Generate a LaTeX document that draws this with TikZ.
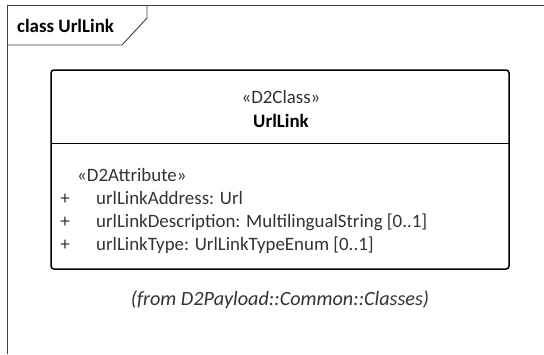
\documentclass[tikz,border=0pt]{standalone}
\usepackage{fontspec}
\setmainfont{Carlito}
\begin{document}
\begin{tikzpicture}[x=1pt,y=-1pt,
  txt/.style={inner sep=0pt,font=\fontsize{18.9}{20}\selectfont,text=black!80,anchor=base},
  attr/.style={txt,anchor=base west},
  frameline/.style={draw=black!75,line width=0.9pt}]
\useasboundingbox (0,0) rectangle (544,354);
\fill[white] (0,0) rectangle (544,354);
% frame
\draw[frameline] (544,5) -- (7,5) -- (7,354);
\draw[frameline] (147,5) -- (147,18) -- (122,45) -- (7,45);
\node[txt,anchor=base west,font=\fontsize{18.9}{20}\selectfont\bfseries,text=black] (title) at (17,32) {class UrlLink};
% class box
\draw[line width=1.5pt,rounded corners=3pt] (51,70) rectangle (509,269);
\draw[line width=1pt] (51,143) -- (509,143);
\node[txt] (st) at (281,103) {«D2Class»};
\node[txt,font=\fontsize{18.9}{20}\selectfont\bfseries,text=black] (nm) at (281,127) {UrlLink};
\node[attr] (ast) at (77,181) {«D2Attribute»};
\node[txt] (p1) at (65,204) {+};
\node[attr] (a1) at (96,204) {urlLinkAddress: Url};
\node[txt] (p2) at (65,227) {+};
\node[attr] (a2) at (96,227) {urlLinkDescription: MultilingualString [0..1]};
\node[txt] (p3) at (65,250) {+};
\node[attr] (a3) at (96,250) {urlLinkType: UrlLinkTypeEnum [0..1]};
\node[txt,font=\fontsize{20.2}{22}\selectfont\itshape] (from) at (280,305) {(from D2Payload::Common::Classes)};
\end{tikzpicture}
\end{document}
